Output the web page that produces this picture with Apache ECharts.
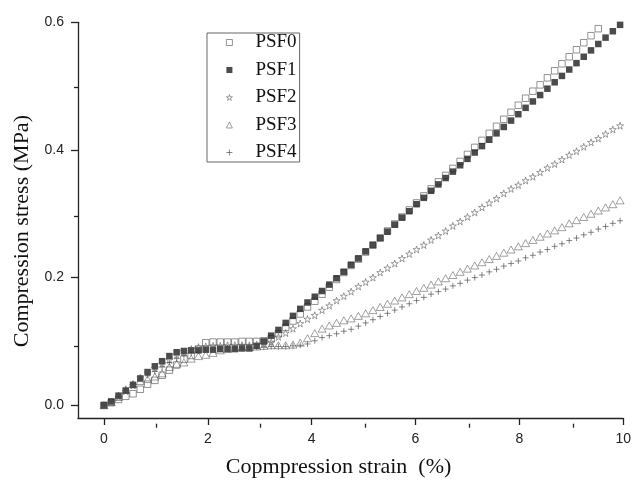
<!DOCTYPE html>
<html>
<head>
<meta charset="utf-8">
<script src="https://cdn.jsdelivr.net/npm/echarts@6/dist/echarts.min.js"></script>
<style>
html,body{margin:0;padding:0;background:#fff;}
#chart{width:634px;height:483px;}
</style>
</head>
<body>
<div id="chart"></div>
<script>
// Strain grid (%) at which the markers sit
const strain = [0.00,0.14,0.28,0.42,0.56,0.70,0.84,0.98,1.12,1.26,1.40,1.54,1.68,1.82,1.96,2.10,2.24,2.38,2.52,2.66,2.80,2.94,3.08,3.22,3.36,3.50,3.64,3.78,3.92,4.06,4.20,4.34,4.48,4.62,4.76,4.90,5.04,5.18,5.32,5.46,5.60,5.74,5.88,6.02,6.16,6.30,6.44,6.58,6.72,6.86,7.00,7.14,7.28,7.42,7.56,7.70,7.84,7.98,8.12,8.26,8.40,8.54,8.68,8.82,8.96,9.10,9.24,9.38,9.52,9.66,9.80,9.94];

// Compression stress (MPa)
const psf0 = [0.000,0.004,0.009,0.014,0.018,0.025,0.033,0.039,0.047,0.055,0.063,0.072,0.078,0.088,0.098,0.099,0.099,0.099,0.099,0.100,0.100,0.100,0.101,0.104,0.112,0.122,0.132,0.143,0.154,0.163,0.174,0.185,0.197,0.208,0.219,0.229,0.240,0.251,0.262,0.273,0.284,0.295,0.306,0.317,0.328,0.339,0.350,0.360,0.371,0.382,0.393,0.404,0.415,0.426,0.437,0.448,0.459,0.470,0.481,0.492,0.502,0.513,0.524,0.535,0.546,0.557,0.568,0.579,0.590];
const psf1 = [0.000,0.006,0.015,0.023,0.032,0.042,0.052,0.061,0.069,0.077,0.083,0.085,0.086,0.086,0.087,0.087,0.088,0.088,0.088,0.089,0.089,0.093,0.100,0.109,0.118,0.129,0.140,0.151,0.161,0.170,0.179,0.189,0.199,0.209,0.220,0.230,0.241,0.251,0.262,0.272,0.283,0.294,0.304,0.315,0.325,0.336,0.346,0.356,0.366,0.376,0.386,0.396,0.406,0.416,0.426,0.436,0.446,0.456,0.466,0.476,0.486,0.496,0.506,0.516,0.526,0.536,0.546,0.556,0.566,0.576,0.586,0.596];
const psf2 = [0.000,0.005,0.013,0.022,0.031,0.043,0.051,0.058,0.065,0.071,0.079,0.084,0.088,0.091,0.092,0.093,0.093,0.094,0.094,0.094,0.094,0.095,0.096,0.099,0.107,0.113,0.120,0.128,0.135,0.141,0.149,0.156,0.164,0.171,0.178,0.186,0.193,0.200,0.208,0.215,0.222,0.230,0.237,0.244,0.251,0.259,0.266,0.273,0.281,0.288,0.295,0.302,0.310,0.317,0.324,0.332,0.339,0.345,0.352,0.358,0.365,0.372,0.378,0.385,0.392,0.398,0.405,0.412,0.418,0.425,0.432,0.438];
const psf3 = [0.000,0.005,0.013,0.024,0.033,0.038,0.041,0.045,0.050,0.060,0.065,0.067,0.073,0.077,0.079,0.082,0.086,0.088,0.090,0.091,0.091,0.092,0.093,0.094,0.094,0.094,0.095,0.098,0.105,0.113,0.120,0.125,0.129,0.133,0.136,0.140,0.144,0.149,0.154,0.159,0.164,0.169,0.174,0.179,0.184,0.189,0.194,0.199,0.204,0.209,0.214,0.219,0.224,0.229,0.234,0.239,0.244,0.249,0.254,0.259,0.264,0.269,0.274,0.279,0.285,0.290,0.295,0.300,0.305,0.310,0.315,0.321];
const psf4 = [0.000,0.006,0.016,0.026,0.034,0.041,0.047,0.053,0.060,0.067,0.073,0.078,0.082,0.085,0.087,0.088,0.089,0.090,0.090,0.090,0.091,0.091,0.091,0.092,0.092,0.092,0.093,0.094,0.096,0.101,0.106,0.109,0.112,0.116,0.119,0.124,0.129,0.134,0.139,0.144,0.149,0.154,0.159,0.164,0.169,0.174,0.178,0.182,0.187,0.191,0.196,0.200,0.204,0.209,0.213,0.218,0.222,0.226,0.231,0.235,0.240,0.244,0.249,0.253,0.258,0.262,0.267,0.271,0.276,0.280,0.285,0.289];

const seriesNames = ['PSF0','PSF1','PSF2','PSF3','PSF4'];
const xMajorTicks = [0,2,4,6,8,10];
const xMinorTicks = [1,3,5,7,9];
const yMajorTicks = [0,0.2,0.4,0.6];
const yMinorTicks = [0.1,0.3,0.5];

function pairs(ys){ return ys.map((v,i)=>[strain[i], v]); }

const STAR = 'path://M50,2 L61,36 L97,36 L68,57 L79,92 L50,71 L21,92 L32,57 L3,36 L39,36 Z';
const PLUS = 'path://M0,50 L100,50 M50,0 L50,100';

const styles = {
  PSF0:{symbol:'rect', size:6.5, item:{color:'#fff', borderColor:'#555', borderWidth:0.8}},
  PSF1:{symbol:'rect', size:6.5, item:{color:'#1e1e1e', borderColor:'#1e1e1e', borderWidth:0}},
  PSF2:{symbol:STAR, size:7, item:{color:'rgba(255,255,255,0)', borderColor:'#555', borderWidth:0.7}},
  PSF3:{symbol:'triangle', size:[8,7], item:{color:'rgba(255,255,255,0)', borderColor:'#555', borderWidth:0.7}},
  PSF4:{symbol:PLUS, size:6, item:{color:'rgba(255,255,255,0)', borderColor:'#444', borderWidth:0.8}}
};
const stressData = {PSF0:psf0, PSF1:psf1, PSF2:psf2, PSF3:psf3, PSF4:psf4};

const axisCol = '#222';
const gridBox = {left:78, right:8.3, top:22.3, bottom:59.3};
const chart = echarts.init(document.getElementById('chart'), null, {renderer:'canvas'});
chart.setOption({
  backgroundColor:'#fff',
  animation:false,
  grid:[Object.assign({}, gridBox), Object.assign({}, gridBox)],
  legend:{
    orient:'vertical', left:207, top:33,
    padding:[0,3,0,19],
    itemGap:8.5, itemWidth:6, itemHeight:6,
    borderColor:'#666', borderWidth:1,
    textStyle:{fontFamily:'Liberation Serif', fontSize:19, color:'#111', lineHeight:19, padding:[0,0,0,18]},
    data:seriesNames.map(n=>({name:n, itemStyle:styles[n].item}))
  },
  xAxis:[{
    gridIndex:0, type:'value', min:-0.5, max:10,
    name:'Copmpression strain  (%)', nameLocation:'middle', nameGap:38,
    nameTextStyle:{fontFamily:'Liberation Serif', fontSize:22, color:'#111', padding:[0,24,0,0]},
    axisLine:{onZero:false, lineStyle:{color:axisCol, width:1.3}},
    axisTick:{customValues:xMajorTicks, length:7, lineStyle:{color:axisCol, width:1.3}},
    axisLabel:{customValues:xMajorTicks, margin:14, fontFamily:'Liberation Sans', fontSize:14, color:'#222'},
    splitLine:{show:false}
  },{
    gridIndex:1, type:'value', min:-0.5, max:10, position:'bottom',
    axisLine:{show:false, onZero:false},
    axisTick:{show:true, customValues:xMinorTicks, length:4, lineStyle:{color:axisCol, width:1.3}},
    axisLabel:{show:false}, splitLine:{show:false}
  }],
  yAxis:[{
    gridIndex:0, type:'value', min:-0.02, max:0.6,
    name:'Compression stress (MPa)', nameLocation:'middle', nameGap:43,
    nameTextStyle:{fontFamily:'Liberation Serif', fontSize:22, color:'#111', padding:[0,22,0,0]},
    axisLine:{onZero:false, lineStyle:{color:axisCol, width:1.3}},
    axisTick:{customValues:yMajorTicks, length:7, lineStyle:{color:axisCol, width:1.3}},
    axisLabel:{customValues:yMajorTicks, margin:14, fontFamily:'Liberation Sans', fontSize:14, color:'#222',
      formatter:v=>Number(v).toFixed(1)},
    splitLine:{show:false}
  },{
    gridIndex:1, type:'value', min:-0.02, max:0.6, position:'left',
    axisLine:{show:false, onZero:false},
    axisTick:{show:true, customValues:yMinorTicks, length:4, lineStyle:{color:axisCol, width:1.3}},
    axisLabel:{show:false}, splitLine:{show:false}
  }],
  series:seriesNames.map(n=>({
    name:n, type:'scatter', xAxisIndex:0, yAxisIndex:0, data:pairs(stressData[n]),
    symbol:styles[n].symbol, symbolSize:styles[n].size, itemStyle:styles[n].item
  }))
});
</script>
</body>
</html>
